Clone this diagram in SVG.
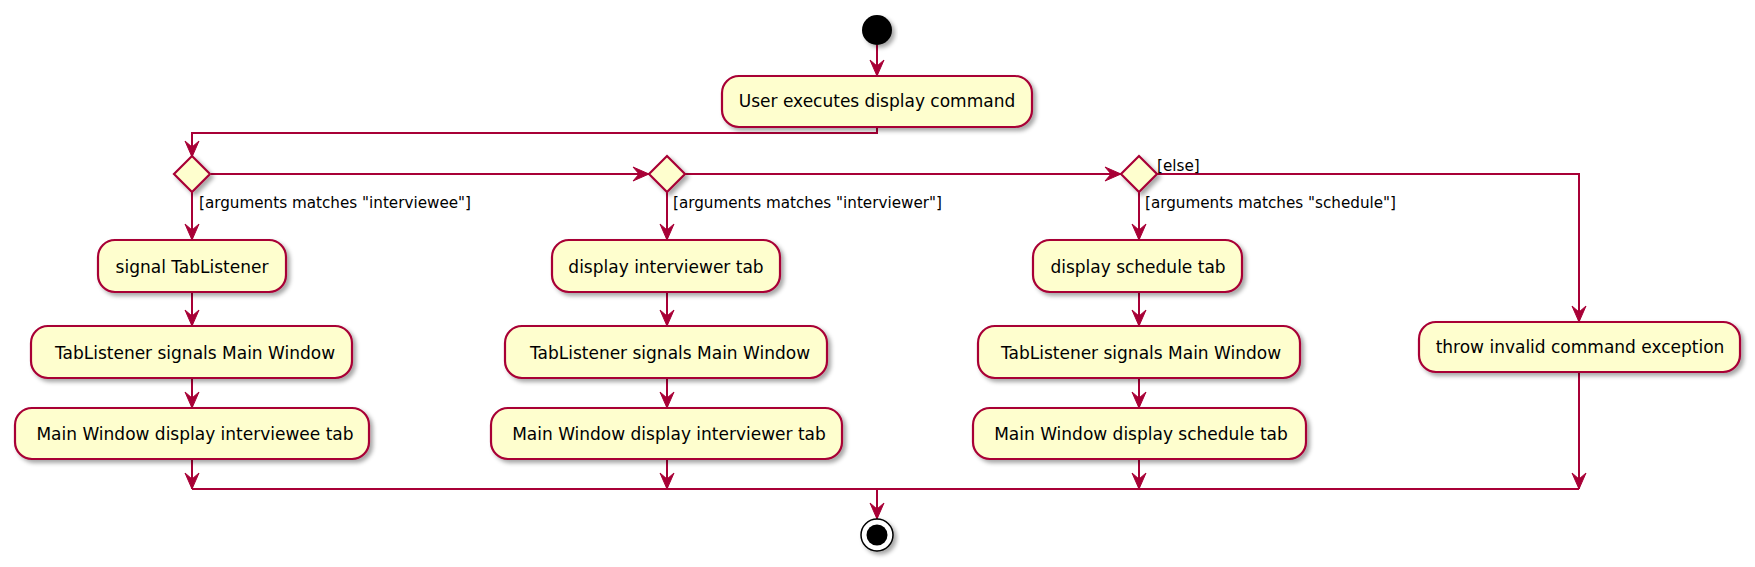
<svg xmlns="http://www.w3.org/2000/svg" width="1755" height="567" viewBox="0 0 1755 567">
<defs>
<filter id="sh" x="-10%" y="-20%" width="130%" height="160%">
<feDropShadow dx="3" dy="3" stdDeviation="2.2" flood-color="#000" flood-opacity="0.35"/>
</filter>
<marker id="ah" viewBox="0 0 18 16" refX="17" refY="8" markerWidth="18" markerHeight="16" markerUnits="userSpaceOnUse" orient="auto">
<path d="M1,1 L17,8 L1,15 L7,8 Z" fill="#A80036" stroke="#A80036" stroke-width="1"/>
</marker>
</defs>
<style>
.box{fill:#FEFECE;stroke:#A80036;stroke-width:2.2;filter:url(#sh)}
.dia{fill:#FEFECE;stroke:#A80036;stroke-width:2.2;filter:url(#sh)}
.t{font-family:"DejaVu Sans",Verdana,sans-serif;font-size:17px;fill:#000;text-anchor:middle}
.lb{font-family:"DejaVu Sans",Verdana,sans-serif;font-size:15.2px;fill:#000}
.c{fill:none;stroke:#A80036;stroke-width:2}
.d{marker-end:url(#ah)}
</style>

<g id="connectors">
<path class="c d" d="M877,45 L877,76"/>
<path class="c d" d="M877,127 L877,133 L192,133 L192,157"/>
<path class="c d" d="M211,174 L649,174"/>
<path class="c d" d="M685,174 L1121,174"/>
<path class="c d" d="M1157,174 L1579,174 L1579,322"/>
<path class="c d" d="M192,192 L192,240"/>
<path class="c d" d="M192,292 L192,326"/>
<path class="c d" d="M192,378 L192,408"/>
<path class="c d" d="M192,459 L192,489"/>
<path class="c d" d="M667,192 L667,240"/>
<path class="c d" d="M667,292 L667,326"/>
<path class="c d" d="M667,378 L667,408"/>
<path class="c d" d="M667,459 L667,489"/>
<path class="c d" d="M1139,192 L1139,240"/>
<path class="c d" d="M1139,292 L1139,326"/>
<path class="c d" d="M1139,378 L1139,408"/>
<path class="c d" d="M1139,459 L1139,489"/>
<path class="c d" d="M1579,372 L1579,489"/>
<path class="c" d="M192,489 L1579,489"/>
<path class="c d" d="M877,489 L877,519"/>
<text class="lb" x="199" y="208">[arguments matches "interviewee"]</text>
<text class="lb" x="673" y="208">[arguments matches "interviewer"]</text>
<text class="lb" x="1145" y="208">[arguments matches "schedule"]</text>
<text class="lb" x="1157" y="171">[else]</text>
</g>

<g id="start"><circle cx="877" cy="30" r="15" fill="#000" filter="url(#sh)"/></g>

<g id="n_user"><rect class="box" x="722" y="76" width="310" height="51" rx="17"/><text class="t" x="877" y="107">User executes display command</text></g>

<g id="d1"><polygon class="dia" points="192,156 210,174 192,192 174,174"/></g>
<g id="d2"><polygon class="dia" points="667,156 685,174 667,192 649,174"/></g>
<g id="d3"><polygon class="dia" points="1139,156 1157,174 1139,192 1121,174"/></g>

<g id="n_signal"><rect class="box" x="98" y="240" width="188" height="52" rx="17"/><text class="t" x="192" y="273">signal TabListener</text></g>
<g id="n_tl1"><rect class="box" x="31" y="326" width="321" height="52" rx="17"/><text class="t" x="195" y="359">TabListener signals Main Window</text></g>
<g id="n_mw1"><rect class="box" x="15" y="408" width="354" height="51" rx="17"/><text class="t" x="195" y="440">Main Window display interviewee tab</text></g>

<g id="n_dint"><rect class="box" x="552" y="240" width="228" height="52" rx="17"/><text class="t" x="666" y="273">display interviewer tab</text></g>
<g id="n_tl2"><rect class="box" x="505" y="326" width="322" height="52" rx="17"/><text class="t" x="670" y="359">TabListener signals Main Window</text></g>
<g id="n_mw2"><rect class="box" x="491" y="408" width="351" height="51" rx="17"/><text class="t" x="669" y="440">Main Window display interviewer tab</text></g>

<g id="n_dsch"><rect class="box" x="1033" y="240" width="209" height="52" rx="17"/><text class="t" x="1138" y="273">display schedule tab</text></g>
<g id="n_tl3"><rect class="box" x="978" y="326" width="322" height="52" rx="17"/><text class="t" x="1141" y="359">TabListener signals Main Window</text></g>
<g id="n_mw3"><rect class="box" x="973" y="408" width="333" height="51" rx="17"/><text class="t" x="1141" y="440">Main Window display schedule tab</text></g>

<g id="n_throw"><rect class="box" x="1419" y="322" width="321" height="50" rx="17"/><text class="t" x="1580" y="353">throw invalid command exception</text></g>

<g id="end"><circle cx="877" cy="535" r="16" fill="#fff" stroke="#000" stroke-width="1.5" filter="url(#sh)"/><circle cx="877" cy="535" r="10.5" fill="#000"/></g>
</svg>
